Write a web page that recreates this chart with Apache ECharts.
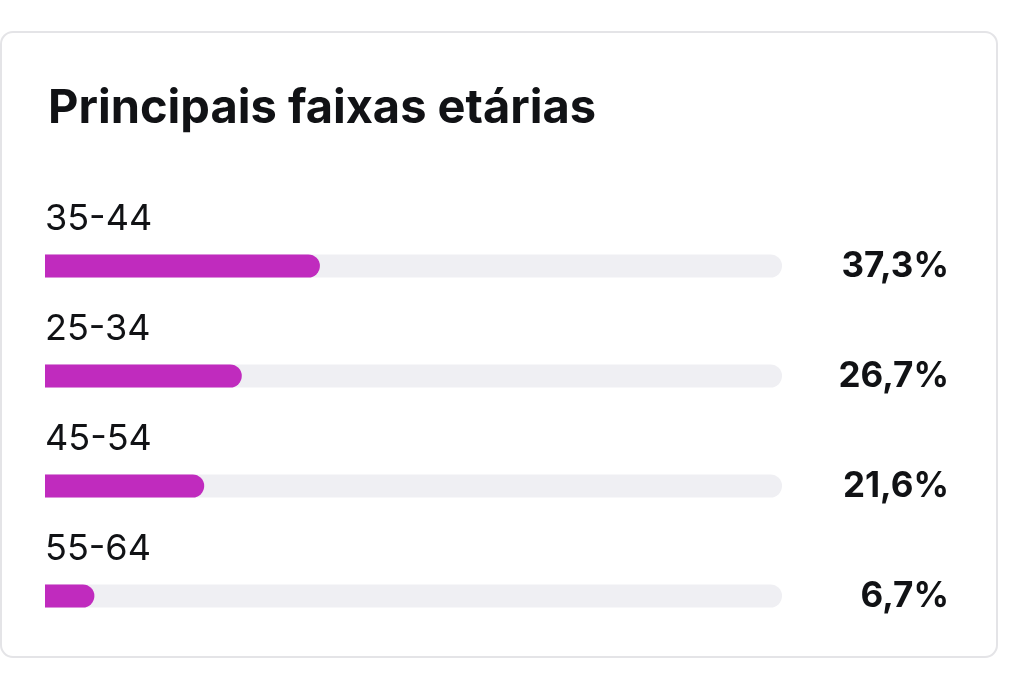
<!DOCTYPE html>
<html>
<head>
<meta charset="utf-8">
<script src="https://cdn.jsdelivr.net/npm/echarts@6/dist/echarts.min.js"></script>
<style>
  html, body { margin: 0; padding: 0; background: #fff; }
  #chart { width: 1023px; height: 676px; }
</style>
</head>
<body>
<div id="chart"></div>
<script>
// Age groups and their share (%)
var ageGroups = ['35-44', '25-34', '45-54', '55-64'];
var shares = [37.3, 26.7, 21.6, 6.7];
var shareLabels = ['37,3%', '26,7%', '21,6%', '6,7%'];

var chart = echarts.init(document.getElementById('chart'));

var option = {
    backgroundColor: '#ffffff',
    animation: false,
    textStyle: { fontFamily: 'Inter' },
    title: {
        text: 'Principais faixas etárias',
        left: 43,
        top: 80,
        textStyle: {
            fontFamily: 'Inter',
            fontSize: 47,
            fontWeight: 'bold',
            color: '#111215'
        }
    },
    graphic: [{
        type: 'rect',
        z: -10,
        shape: { x: 1, y: 32, width: 996, height: 625, r: 12 },
        style: { fill: '#ffffff', stroke: '#e4e4e7', lineWidth: 2 }
    }],
    grid: { left: 45, right: 241, top: 211, bottom: 25 },
    xAxis: {
        type: 'value',
        min: 0,
        max: 100,
        show: false
    },
    yAxis: [{
        type: 'category',
        inverse: true,
        data: ageGroups,
        show: false
    }, {
        type: 'category',
        inverse: true,
        position: 'right',
        data: ageGroups,
        axisLine: { show: false },
        axisTick: { show: false },
        axisLabel: {
            align: 'right',
            margin: 167,
            padding: [0, 0, 12, 0],
            fontFamily: 'Inter',
            fontSize: 35,
            fontWeight: 'bold',
            color: '#111215',
            formatter: function (value, index) {
                return shareLabels[index];
            }
        }
    }],
    series: [{
        type: 'bar',
        data: shares,
        barWidth: 23,
        itemStyle: {
            color: '#c02bbe',
            borderRadius: [0, 12, 12, 0]
        },
        showBackground: true,
        backgroundStyle: {
            color: '#efeff3',
            borderRadius: [0, 12, 12, 0]
        },
        label: {
            show: true,
            position: [0, -17],
            verticalAlign: 'bottom',
            align: 'left',
            fontFamily: 'Inter',
            fontSize: 36,
            color: '#111215',
            formatter: function (params) {
                return ageGroups[params.dataIndex];
            }
        }
    }]
};

chart.setOption(option);
</script>
</body>
</html>
